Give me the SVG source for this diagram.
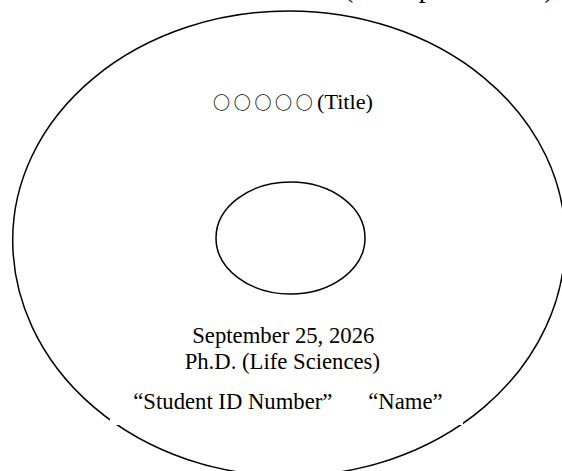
<svg xmlns="http://www.w3.org/2000/svg" width="562" height="471" viewBox="0 0 562 471">
<style>
.outline{fill:none;stroke:#000;stroke-width:1.5}
.serif{font-family:"Liberation Serif","Times New Roman",serif;fill:#000}
.cjk{font-family:"Noto Sans CJK JP","Noto Sans CJK SC",sans-serif;fill:#000;font-weight:bold}
</style>
<rect width="562" height="471" fill="#fff"/>
<text class="serif" x="344" y="-3" font-size="28">(Example of label)</text>
<g id="disc">
<path class="outline" d="M12.7,240 A276.3,229 0 0 1 565.3,240 A276.3,236 0 0 1 12.7,240 Z"/>
</g>
<g id="hole">
<ellipse class="outline" cx="290.5" cy="238" rx="74.5" ry="56"/>
</g>
<g id="title">
<text class="cjk" x="213" y="108.5" font-size="17" letter-spacing="3.7">○○○○○</text>
<text class="serif" x="317" y="109" font-size="21" textLength="56" lengthAdjust="spacingAndGlyphs">(Title)</text>
</g>
<g id="info">
<rect x="110" y="392" width="353" height="33" fill="#fff"/>
<text class="serif" x="283.3" y="343" font-size="22.7" text-anchor="middle">September 25, 2026</text>
<text class="serif" x="282.3" y="369" font-size="22.7" text-anchor="middle">Ph.D. (Life Sciences)</text>
<text class="serif" y="409" font-size="22.7"><tspan x="133.3">“Student ID Number”</tspan><tspan x="368.3">“Name”</tspan></text>
</g>
</svg>
